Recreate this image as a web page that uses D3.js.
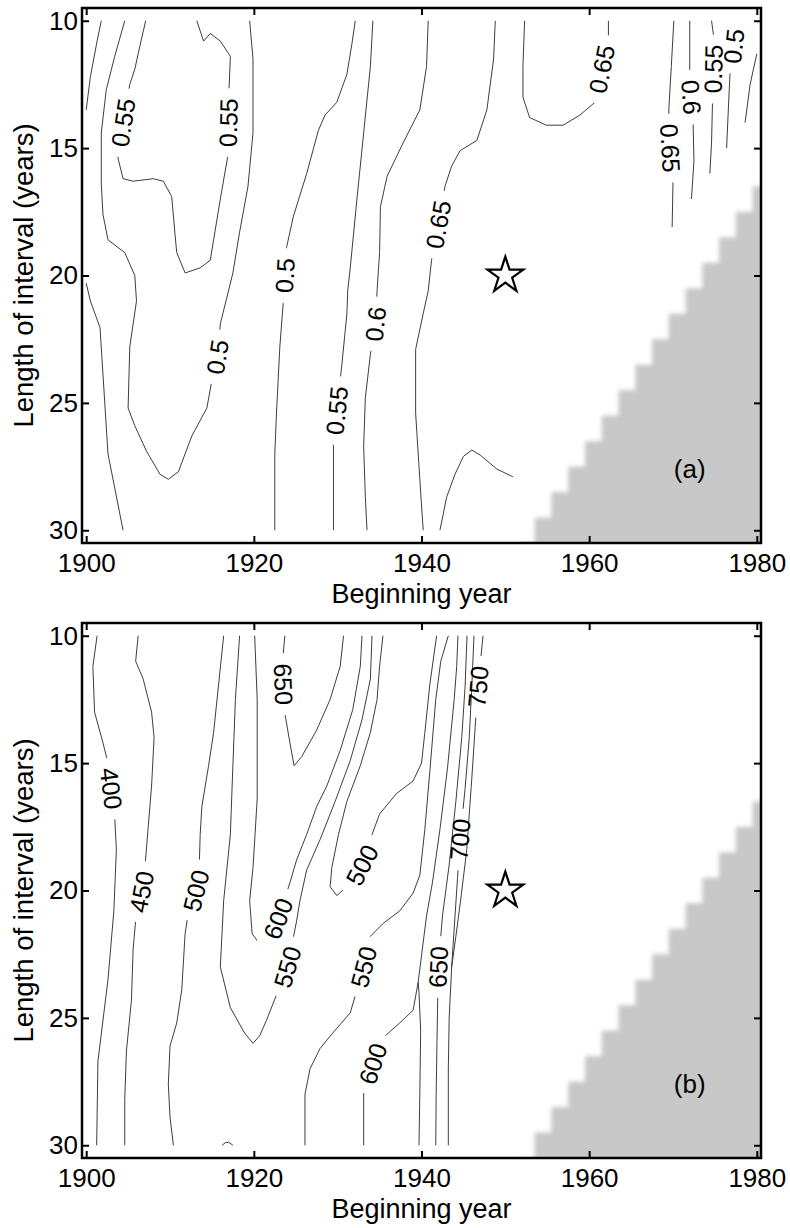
<!DOCTYPE html>
<html>
<head>
<meta charset="utf-8">
<script src="https://cdn.jsdelivr.net/npm/d3@7"></script>
<style>
  body { margin: 0; background: #fff; }
  text { font-family: "Liberation Sans", Arial, Helvetica, sans-serif; }
</style>
</head>
<body>
<svg id="chart" width="790" height="1228"></svg>
<script>
// ---- data ----
const tickYears = [1900, 1920, 1940, 1960, 1980];
const tickLengths = [10, 15, 20, 25, 30];
// grid of the shaded (no data) cells; extends past the frame so the soft edge is not faded
const gridYears = d3.range(1900, 1991);
const gridLengths = d3.range(10, 37);
const lastYear = 2013;           // cell shaded when year + 2 * length > lastYear
const starPoint = [1950, 20];

// contour lines: [beginning year, length of interval]
const contoursA = [
  { level: '', pts: [[1901.8, 10], [1901.3, 10.8], [1900.5, 12.2], [1900, 13.5]] },
  { level: '', pts: [[1900, 20.3], [1900.5, 21], [1901.65, 22.05], [1902.6, 27], [1904.4, 30]] },
  { level: '0.5', labels: [[1915.65, 23.2]], pts: [[1904.6, 10], [1903.4, 11.4], [1902.4, 12.7], [1901.8, 14.4], [1901.8, 16.4], [1902.0, 17.6], [1902.6, 18.6], [1904.6, 19.1], [1905.8, 20.0], [1906.0, 21.0], [1905.2, 22.8], [1905.0, 25.2], [1905.8, 25.9], [1907.2, 26.9], [1908.8, 27.8], [1909.8, 28.0], [1911.0, 27.7], [1912.6, 26.3], [1914.4, 25.2], [1915.0, 24.1], [1915.65, 23.2], [1916.0, 21.9], [1917.5, 19.9], [1918.3, 18.3], [1919.3, 16.5], [1919.9, 14.4], [1919.9, 11.5], [1919.5, 10]] },
  { level: '0.55', labels: [[1904.4, 14.0], [1916.95, 14.0]], pts: [[1907.1, 10], [1906.4, 11], [1905.8, 11.9], [1905.2, 12.5], [1904.4, 14], [1903.8, 15.4], [1904.4, 16.2], [1905.6, 16.3], [1908.0, 16.2], [1909.2, 16.3], [1910.2, 16.9], [1910.6, 18.4], [1910.8, 19.1], [1911.8, 19.9], [1913.6, 19.7], [1914.8, 19.4], [1915.2, 18.6], [1916.0, 17.0], [1916.9, 15.3], [1916.95, 14.0], [1917.05, 12.6], [1917.2, 11.4], [1916.0, 10.8], [1914.8, 10.5], [1914.0, 10.8], [1913.2, 10]] },
  { level: '0.5', labels: [[1923.7, 20.0]], pts: [[1932.1, 10], [1931.7, 10.9], [1931.1, 12.1], [1929.9, 13.2], [1928.5, 13.7], [1927.7, 14.3], [1926.3, 16], [1924.7, 17.7], [1923.9, 18.9], [1923.7, 20], [1923.5, 21.1], [1923.1, 22.8], [1922.7, 25.4], [1922.5, 27], [1922.5, 30]] },
  { level: '0.55', labels: [[1929.9, 25.3]], pts: [[1934.2, 10], [1933.9, 11.8], [1933.1, 14.4], [1932.3, 17], [1931.5, 19.7], [1931.2, 20.6], [1931.1, 21.5], [1930.5, 23.5], [1929.9, 25.3], [1929.5, 26.7], [1929.5, 30]] },
  { level: '0.6', labels: [[1934.5, 21.9]], pts: [[1940.8, 10], [1940.6, 11.8], [1939.8, 13.5], [1937.8, 14.8], [1935.9, 16.1], [1935.1, 17.3], [1935.0, 19.1], [1934.7, 20.6], [1934.5, 21.9], [1933.9, 23.1], [1933.3, 24.8], [1933.1, 26.7], [1933.3, 28.7], [1933.5, 30]] },
  { level: '0.65', labels: [[1942.0, 18.0]], pts: [[1948.8, 10], [1948.6, 11.5], [1947.8, 13.5], [1946.6, 14.7], [1944.6, 15.1], [1943.6, 15.7], [1942.8, 16.5], [1942.0, 18.0], [1941.2, 19.4], [1940.8, 20.6], [1940.2, 21.5], [1939.3, 22.9], [1939.3, 25.4], [1939.8, 28], [1940.2, 30]] },
  { level: '0.65', labels: [[1961.5, 11.9]], pts: [[1952.3, 10], [1952.1, 11.8], [1952.1, 13], [1952.9, 13.8], [1954.9, 14.1], [1956.9, 14.1], [1958.9, 13.7], [1960.7, 13.2], [1961.5, 11.9], [1962.3, 10.6], [1962.3, 10]] },
  { level: '', pts: [[1942.2, 30], [1943, 28.7], [1944, 27.8], [1945, 27.1], [1946, 26.85], [1947, 27.05], [1949, 27.6], [1950.9, 27.9]] },
  { level: '0.65', labels: [[1969.7, 15.0]], pts: [[1970.1, 10], [1969.8, 11.8], [1969.5, 13.5], [1969.7, 15], [1970.0, 16.4], [1969.9, 18.1]] },
  { level: '0.6', labels: [[1972.2, 13.0]], pts: [[1972.0, 10], [1972.0, 12], [1972.2, 13], [1972.4, 14], [1972.5, 15.5], [1972.2, 17]] },
  { level: '0.55', labels: [[1974.8, 11.9]], pts: [[1974.6, 10], [1974.85, 10.6], [1974.8, 11.9], [1974.7, 13.4], [1974.6, 14.8], [1974.4, 16.0]] },
  { level: '0.5', labels: [[1977.25, 11.0]], pts: [[1977.3, 10.7], [1977.25, 11.0], [1976.8, 12.1], [1976.6, 13.5], [1976.4, 15]] },
  { level: '', pts: [[1980, 11.3], [1979.2, 12.5], [1978.6, 14]] }
];

const contoursB = [
  { level: '400', labels: [[1903.0, 16.0]], pts: [[1901.3, 10], [1900.8, 11.2], [1901.0, 13], [1902.0, 14.2], [1902.6, 15], [1903.0, 16], [1903.4, 17.1], [1903.6, 18.4], [1903.3, 20.8], [1902.6, 23.5], [1901.4, 26.7], [1901.25, 30]] },
  { level: '450', labels: [[1906.6, 20.05]], pts: [[1906.2, 10], [1905.9, 11], [1906.8, 11.7], [1907.8, 13], [1908.1, 14], [1907.8, 15.9], [1907.4, 17.5], [1907.0, 19.1], [1906.6, 20.05], [1906.0, 20.8], [1905.6, 22.3], [1905.4, 24.3], [1904.8, 26.3], [1904.6, 28.2], [1904.6, 30]] },
  { level: '500', labels: [[1913.1, 20.0]], pts: [[1916.4, 10], [1915.8, 11.9], [1915.2, 13.8], [1914.6, 15.1], [1913.8, 16.7], [1913.6, 17.8], [1913.5, 18.9], [1913.1, 20.0], [1912.4, 20.4], [1911.8, 21.7], [1911.4, 23.9], [1910.8, 25.2], [1910.0, 26.1], [1909.8, 27.6], [1910.0, 28.9], [1910.4, 30]] },
  { level: '550', labels: [[1924.0, 23.0]], pts: [[1918.3, 10], [1917.8, 12.5], [1917.5, 15.1], [1917.2, 17.8], [1916.4, 20.4], [1916.0, 23], [1917.2, 24.6], [1918.9, 25.6], [1919.9, 26], [1920.7, 25.7], [1921.5, 25.1], [1922.7, 24.1], [1924.0, 23.0], [1925.1, 21.2], [1925.5, 20.4], [1926.3, 19.2], [1927.9, 18], [1929.7, 16.5], [1931.5, 14.9], [1932.9, 13.3], [1933.9, 11.7], [1934.1, 10]] },
  { level: '600', labels: [[1922.9, 21.1]], pts: [[1932.9, 10], [1932.7, 11.2], [1931.8, 12.9], [1930.3, 14.5], [1928.7, 15.9], [1927.5, 16.7], [1926.3, 17.8], [1925.1, 18.8], [1924.3, 19.7], [1922.9, 21.1], [1921.9, 21.9], [1920.7, 22.1], [1919.8, 21.7], [1919.5, 20.4], [1919.9, 19.1], [1920.4, 16.4], [1920.4, 12.5], [1920.1, 10]] },
  { level: '650', labels: [[1923.55, 11.9]], pts: [[1923.7, 10], [1923.45, 10.9], [1923.55, 11.9], [1923.7, 13.05], [1924.3, 14.2], [1924.8, 15.1], [1925.7, 14.75], [1927.5, 13.7], [1929.1, 12.5], [1930.3, 11.2], [1930.7, 10]] },
  { level: '500', labels: [[1932.9, 19.0]], pts: [[1935.4, 10], [1935.0, 11.2], [1934.7, 12.5], [1933.9, 13.8], [1932.7, 15.1], [1931.1, 16.5], [1930.1, 17.8], [1929.3, 19.1], [1929.1, 19.85], [1929.9, 20.2], [1930.9, 19.9], [1932.9, 19.0], [1934.1, 17.8], [1935.0, 17], [1937.0, 16.2], [1939.0, 15.7], [1940.0, 15], [1940.4, 13.8], [1941.0, 11.9], [1941.8, 10]] },
  { level: '550', labels: [[1933.1, 23.0]], pts: [[1926.1, 30], [1926.1, 28], [1926.7, 27], [1927.9, 26.2], [1929.4, 25.6], [1931.5, 24.8], [1933.1, 23.0], [1933.9, 21.8], [1935.4, 21.3], [1937.4, 20.8], [1939.0, 20.1], [1939.8, 19.4], [1940.4, 17.6], [1941.0, 15.3], [1941.7, 12.5], [1942.3, 11], [1943.2, 10]] },
  { level: '600', labels: [[1934.2, 26.8]], pts: [[1933.1, 30], [1933.1, 27.8], [1934.2, 26.8], [1935.0, 25.9], [1937.4, 25.2], [1939.0, 24.7], [1939.6, 23.6], [1940.1, 22.3], [1940.6, 21], [1941.3, 19.7], [1942.2, 17.6], [1943.1, 15.2], [1943.9, 12.5], [1944.2, 11.2], [1944.35, 10]] },
  { level: '', pts: [[1939.7, 30], [1939.8, 28], [1939.9, 25.5], [1939.7, 24.0], [1939.6, 23.6]] },
  { level: '650', labels: [[1942.0, 23.0]], pts: [[1941.7, 30], [1941.75, 28], [1941.85, 25.9], [1942.0, 23.0], [1942.5, 21], [1943.3, 19], [1944.1, 16.5], [1944.8, 14], [1945.2, 12], [1945.43, 10]] },
  { level: '700', labels: [[1944.6, 18.0]], pts: [[1943.2, 30], [1943.2, 27], [1943.3, 25], [1943.6, 23], [1944.0, 21], [1944.3, 19.5], [1944.6, 18], [1945.2, 16], [1945.7, 14], [1946.0, 12], [1946.26, 10]] },
  { level: '750', labels: [[1946.74, 12.0]], pts: [[1943.6, 23], [1944.1, 21.8], [1944.7, 20.3], [1945.4, 18.4], [1946.0, 15.6], [1946.4, 13.6], [1946.74, 12], [1947.34, 10]] },
  { level: '', pts: [[1916.2, 30], [1916.6, 29.9], [1917.0, 29.88], [1917.5, 30]] }
];

// ---- drawing ----
const svg = d3.select('#chart');
const defs = svg.append('defs');
defs.append('filter').attr('id', 'soft')
  .attr('x', '-5%').attr('y', '-5%').attr('width', '110%').attr('height', '110%')
  .append('feGaussianBlur').attr('stdDeviation', 2);

const x = d3.scaleLinear().domain([1899.5, 1980.5]).range([82, 761]);
const panelHeight = 535;
const labelSize = 25;
const fontStack = '"Liberation Sans", Arial, Helvetica, sans-serif';

// point on a polyline at arc length s
function pointAt(screen, cum, s) {
  s = Math.max(0, Math.min(cum[cum.length - 1], s));
  let k = 1;
  while (k < cum.length - 1 && cum[k] < s) k++;
  const t = (s - cum[k - 1]) / ((cum[k] - cum[k - 1]) || 1);
  const [ax, ay] = screen[k - 1], [bx, by] = screen[k];
  return [ax + t * (bx - ax), ay + t * (by - ay)];
}

function drawPanel(top, contours, tag, panelLabel) {
  const y = d3.scaleLinear().domain([9.5, 30.5]).range([top, top + panelHeight]);
  const g = svg.append('g').attr('class', 'panel-' + tag);
  const [x0, x1] = x.range();
  const [y0, y1] = y.range();

  defs.append('clipPath').attr('id', 'clip-' + tag)
    .append('rect').attr('x', x0).attr('y', y0).attr('width', x1 - x0).attr('height', y1 - y0);

  // shaded cells where the interval runs past the record
  const cells = [];
  gridYears.forEach(yr => gridLengths.forEach(len => {
    if (yr + 2 * len > lastYear) cells.push([yr, len]);
  }));
  const cw = x(1) - x(0), ch = y(1) - y(0);
  g.append('g').attr('clip-path', `url(#clip-${tag})`)
    .append('g').attr('filter', 'url(#soft)')
    .selectAll('rect').data(cells).join('rect')
    .attr('x', d => x(d[0] - 0.5)).attr('y', d => y(d[1] - 0.5))
    .attr('width', cw + 0.6).attr('height', ch + 0.6)
    .attr('fill', '#c8c8c8');

  const line = d3.line().x(d => x(d[0])).y(d => y(d[1]));
  const lineG = g.append('g');
  const labelG = g.append('g');

  contours.forEach((c, i) => {
    const path = lineG.append('path')
      .attr('d', line(c.pts))
      .attr('fill', 'none')
      .attr('stroke', '#333')
      .attr('stroke-width', 0.95)
      .attr('stroke-linejoin', 'round');
    if (!c.labels) return;

    const screen = c.pts.map(p => [x(p[0]), y(p[1])]);
    const cum = [0];
    for (let k = 1; k < screen.length; k++) {
      cum.push(cum[k - 1] + Math.hypot(screen[k][0] - screen[k - 1][0], screen[k][1] - screen[k - 1][1]));
    }
    const maskId = `m-${tag}-${i}`;
    const mask = defs.append('mask').attr('id', maskId).attr('maskUnits', 'userSpaceOnUse')
      .attr('x', 0).attr('y', 0).attr('width', 790).attr('height', 1228);
    mask.append('rect').attr('width', 790).attr('height', 1228).attr('fill', '#fff');

    c.labels.forEach(l => {
      const px = x(l[0]), py = y(l[1]);
      const txt = labelG.append('text')
        .attr('text-anchor', 'middle')
        .attr('dy', '0.36em')
        .attr('font-size', labelSize)
        .attr('fill', '#000')
        .text(c.level);
      const w = txt.node().getComputedTextLength();

      // arc position of the label, then the chord across the label sets its angle
      let best = Infinity, sAt = 0;
      for (let k = 0; k < screen.length - 1; k++) {
        const [ax, ay] = screen[k], [bx, by] = screen[k + 1];
        const dx = bx - ax, dy = by - ay;
        const t = Math.max(0, Math.min(1, ((px - ax) * dx + (py - ay) * dy) / (dx * dx + dy * dy)));
        const dist = Math.hypot(ax + t * dx - px, ay + t * dy - py);
        if (dist < best) { best = dist; sAt = cum[k] + t * (cum[k + 1] - cum[k]); }
      }
      const pa = pointAt(screen, cum, sAt - w / 2);
      const pb = pointAt(screen, cum, sAt + w / 2);
      let ang = Math.atan2(pb[1] - pa[1], pb[0] - pa[0]) * 180 / Math.PI;
      if (ang > 90) ang -= 180;
      if (ang <= -90) ang += 180;

      txt.attr('transform', `translate(${px},${py}) rotate(${ang})`);
      mask.append('rect')
        .attr('transform', `translate(${px},${py}) rotate(${ang})`)
        .attr('x', -w / 2 - 10).attr('y', -12)
        .attr('width', w + 20).attr('height', 24)
        .attr('fill', '#000');
    });
    path.attr('mask', `url(#${maskId})`);
  });

  // star
  g.append('path')
    .attr('d', d3.symbol(d3.symbolStar, 400)())
    .attr('transform', `translate(${x(starPoint[0])},${y(starPoint[1])})`)
    .attr('fill', '#fff').attr('stroke', '#000').attr('stroke-width', 2.2)
    .attr('stroke-linejoin', 'miter');

  // panel letter
  g.append('text')
    .attr('x', x(1972)).attr('y', y(27.95))
    .attr('text-anchor', 'middle')
    .attr('font-size', 26)
    .text(panelLabel);

  // axes
  const styleAxis = sel => {
    sel.select('.domain').remove();
    sel.selectAll('.tick line').attr('stroke', '#000').attr('stroke-width', 2);
    sel.selectAll('.tick text').attr('fill', '#000').attr('font-family', fontStack);
    sel.attr('font-size', 26).attr('font-family', null);
  };
  g.append('g').attr('transform', `translate(0,${y1})`)
    .call(d3.axisBottom(x).tickValues(tickYears).tickSize(-7).tickPadding(11).tickFormat(d3.format('d')))
    .call(styleAxis);
  g.append('g').attr('transform', `translate(0,${y0})`)
    .call(d3.axisTop(x).tickValues(tickYears).tickSize(-7).tickFormat(''))
    .call(styleAxis);
  g.append('g').attr('transform', `translate(${x0},0)`)
    .call(d3.axisLeft(y).tickValues(tickLengths).tickSize(-7).tickPadding(4).tickFormat(d3.format('d')))
    .call(styleAxis);
  g.append('g').attr('transform', `translate(${x1},0)`)
    .call(d3.axisRight(y).tickValues(tickLengths).tickSize(-7).tickFormat(''))
    .call(styleAxis);

  g.append('rect')
    .attr('x', x0).attr('y', y0).attr('width', x1 - x0).attr('height', y1 - y0)
    .attr('fill', 'none').attr('stroke', '#000').attr('stroke-width', 2.5);

  g.append('text')
    .attr('x', (x0 + x1) / 2).attr('y', y1 + 60)
    .attr('text-anchor', 'middle').attr('font-size', 27)
    .text('Beginning year');
  g.append('text')
    .attr('transform', `translate(33,${(y0 + y1) / 2}) rotate(-90)`)
    .attr('text-anchor', 'middle').attr('font-size', 27.5)
    .text('Length of interval (years)');
}

drawPanel(8, contoursA, 'a', '(a)');
drawPanel(623, contoursB, 'b', '(b)');
</script>
</body>
</html>
